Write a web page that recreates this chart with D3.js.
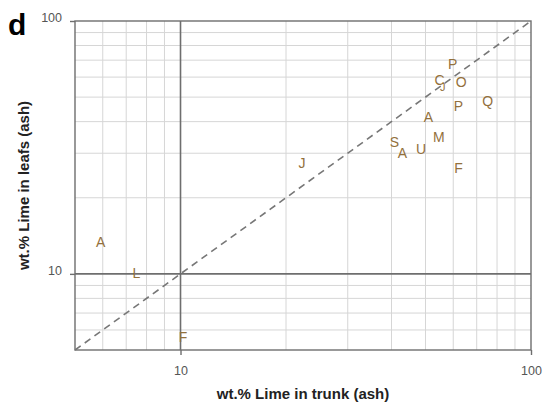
<!DOCTYPE html>
<html>
<head>
<meta charset="utf-8">
<script src="https://cdn.jsdelivr.net/npm/d3@7"></script>
<style>
  html, body { margin: 0; padding: 0; background: #fff; }
  svg { display: block; font-family: "Liberation Sans", Arial, sans-serif; }
</style>
</head>
<body>
<svg id="chart" width="545" height="406"></svg>
<script>
// Sample codes and lime content (wt.% in ash) for trunk vs. leaves
const labels   = ["P", "C", "J", "O", "Q", "P", "A", "M", "S", "A", "U", "F", "J", "A", "L", "F"];
const trunkPct = [59.8, 54.8, 56.0, 63.2, 75.2, 62.1, 51.0, 54.6, 40.8, 43.0, 48.6, 62.1, 22.2, 5.92, 7.49, 10.17];
const leafPct  = [67.6, 58.5, 55.0, 57.5, 48.3, 46.3, 41.9, 34.9, 33.3, 30.1, 31.1, 26.3, 27.4, 13.4, 10.06, 5.65];
const majorTicks = [10, 100];
const minorTicks = [6, 7, 8, 9, 20, 30, 40, 50, 60, 70, 80, 90];

const svg = d3.select("#chart");
const margin = { left: 75, right: 14, top: 21, bottom: 56 };
const W = 545, H = 406;

const x = d3.scaleLog().domain([5, 100]).range([margin.left, W - margin.right]);
const y = d3.scaleLog().domain([5, 100]).range([H - margin.bottom, margin.top]);

const [x0, x1] = x.range();
const [y0, y1] = y.range();

// Minor grid
const grid = svg.append("g");
grid.selectAll("line.vx").data(minorTicks).join("line")
  .attr("x1", d => x(d)).attr("x2", d => x(d))
  .attr("y1", y1).attr("y2", y0)
  .attr("stroke", "#d6d6d6").attr("stroke-width", 1);
grid.selectAll("line.hy").data(minorTicks).join("line")
  .attr("x1", x0).attr("x2", x1)
  .attr("y1", d => y(d)).attr("y2", d => y(d))
  .attr("stroke", "#d6d6d6").attr("stroke-width", 1);

// Major grid (decade lines)
grid.selectAll("line.mx").data([10]).join("line")
  .attr("x1", d => x(d)).attr("x2", d => x(d))
  .attr("y1", y1).attr("y2", y0)
  .attr("stroke", "#6e6e6e").attr("stroke-width", 1.6);
grid.selectAll("line.my").data([10]).join("line")
  .attr("x1", x0).attr("x2", x1)
  .attr("y1", d => y(d)).attr("y2", d => y(d))
  .attr("stroke", "#6e6e6e").attr("stroke-width", 1.6);

// Frame
svg.append("rect")
  .attr("x", x0).attr("y", y1)
  .attr("width", x1 - x0).attr("height", y0 - y1)
  .attr("fill", "none").attr("stroke", "#6e6e6e").attr("stroke-width", 1.4);

// Axes
const xAxis = d3.axisBottom(x).tickValues(majorTicks).tickFormat(d3.format("d")).tickSize(5).tickPadding(11);
const yAxis = d3.axisLeft(y).tickValues(majorTicks).tickFormat(d3.format("d")).tickSize(5).tickPadding(8);

const gx = svg.append("g").attr("transform", `translate(0,${y0})`).call(xAxis);
const gy = svg.append("g").attr("transform", `translate(${x0},0)`).call(yAxis);
[gx, gy].forEach(g => {
  g.select(".domain").remove();
  g.selectAll(".tick line").attr("stroke", "#6e6e6e").attr("stroke-width", 1.4);
  g.selectAll(".tick text").attr("fill", "#555").attr("font-size", 12.5)
    .attr("font-family", "'Liberation Sans', Arial, sans-serif");
});
gy.selectAll(".tick text").attr("dy", "0.05em");

// 1:1 reference line
svg.append("line")
  .attr("x1", x(5)).attr("y1", y(5))
  .attr("x2", x(100)).attr("y2", y(100))
  .attr("stroke", "#777").attr("stroke-width", 1.6)
  .attr("stroke-dasharray", "7,5");

// Sample labels
svg.append("g").selectAll("text").data(labels).join("text")
  .attr("x", (d, i) => x(trunkPct[i]))
  .attr("y", (d, i) => y(leafPct[i]))
  .attr("text-anchor", "middle")
  .attr("dominant-baseline", "central")
  .attr("font-size", (d, i) => i === 2 ? 11 : 14)
  .attr("fill", "#93703c")
  .text(d => d);

// Axis titles
svg.append("text")
  .attr("x", (x0 + x1) / 2).attr("y", 399)
  .attr("text-anchor", "middle")
  .attr("font-size", 15).attr("font-weight", "bold").attr("fill", "#222")
  .text("wt.% Lime in trunk (ash)");

svg.append("text")
  .attr("transform", `translate(29,${(y0 + y1) / 2}) rotate(-90)`)
  .attr("text-anchor", "middle")
  .attr("font-size", 15).attr("font-weight", "bold").attr("fill", "#222")
  .text("wt.% Lime in leafs (ash)");

// Panel letter
svg.append("text")
  .attr("x", 8).attr("y", 35)
  .attr("font-size", 30).attr("font-weight", "bold").attr("fill", "#000")
  .text("d");
</script>
</body>
</html>
